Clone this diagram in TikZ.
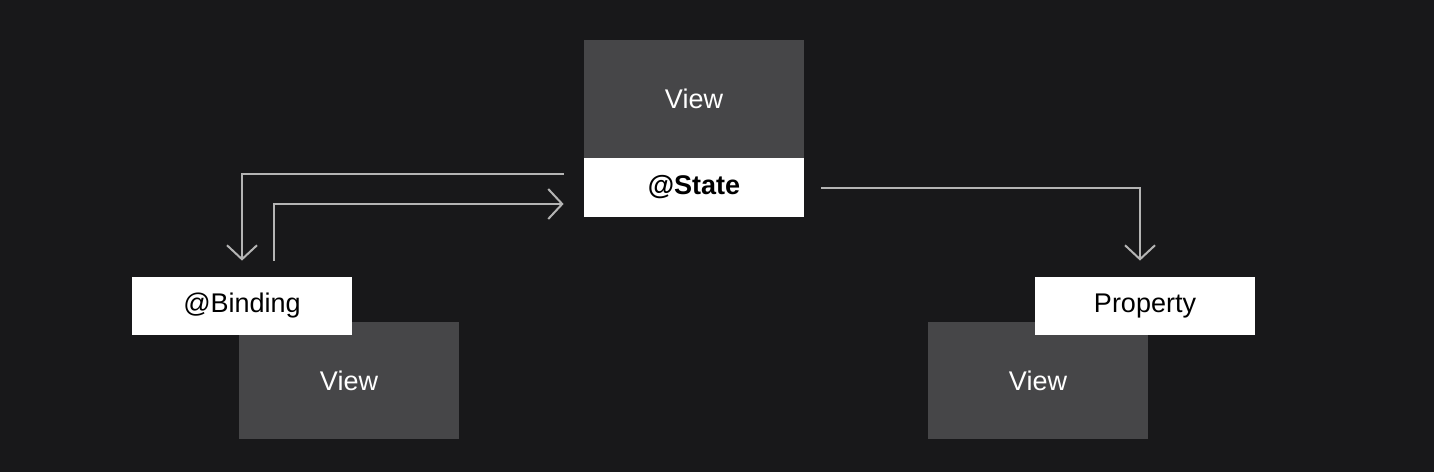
\documentclass[tikz,border=0pt]{standalone}
\usepackage{fontspec}
\setmainfont{Liberation Sans}
\usetikzlibrary{arrows.meta}
\definecolor{bgdark}{HTML}{18181A}
\definecolor{viewgray}{HTML}{464648}
\definecolor{wiregray}{HTML}{B4B4B4}

\tikzset{
    viewbox/.style={fill=viewgray, text=white, inner sep=0pt, minimum width=110pt, font=\fontsize{13.5}{16}\selectfont},
    tagbox/.style={fill=white, text=black, inner sep=0pt, minimum width=110pt, minimum height=29pt, font=\fontsize{13.5}{16}\selectfont},
    flow/.style={draw=wiregray, line width=1pt, -{Straight Barb[length=7pt, width=15pt, line width=1pt]}}
}

\begin{document}
\begin{tikzpicture}[x=0.5pt, y=-0.5pt]
    \fill[bgdark] (0,0) rectangle (1434,472);
    \useasboundingbox (0,0) rectangle (1434,472);

    % Parent view with its state
    \node[viewbox, minimum height=59pt] (topview) at (694,99) {View};
    \node[tagbox, minimum height=29.5pt] (state) at (694,187.5) {\bfseries @State};

    % Child view with a binding
    \node[viewbox, minimum height=58.5pt] (leftview) at (349,380.5) {View};
    \node[tagbox] (binding) at (242,306) {@Binding};

    % Child view with a plain property
    \node[viewbox, minimum height=58.5pt] (rightview) at (1038,380.5) {View};
    \node[tagbox] (property) at (1145,306) {Property};

    % Ends of the wires
    \coordinate (stateout) at ([xshift=-10pt]state.west |- 0,174);
    \coordinate (statein) at ([xshift=-10pt]state.west |- 0,204);
    \coordinate (bindin) at ([yshift=8pt]binding.north);
    \coordinate (bindout) at ([xshift=16pt, yshift=8pt]binding.north);
    \coordinate (passout) at ([xshift=8.5pt]state.east);
    \coordinate (propin) at ([xshift=-2.5pt, yshift=8pt]property.north);

    \draw[flow] (stateout) -| (bindin);
    \draw[flow] (bindout) |- (statein);
    \draw[flow] (passout) -| (propin);
\end{tikzpicture}
\end{document}
